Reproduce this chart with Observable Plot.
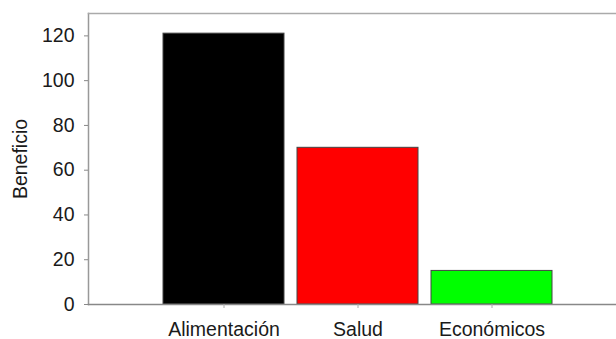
<!DOCTYPE html>
<html>
<head>
<meta charset="utf-8">
<script src="https://cdn.jsdelivr.net/npm/d3@7"></script>
<script src="https://cdn.jsdelivr.net/npm/@observablehq/plot@0.6"></script>
<style>
  html, body { margin: 0; padding: 0; background: #fff; }
  #chart svg { display: block; font-family: "Liberation Sans", Arial, sans-serif; }
</style>
</head>
<body>
<div id="chart"></div>
<script>
const categories = ["Alimentación", "Salud", "Económicos"];
const values = [121, 70, 15];
const colors = ["#000000", "#ff0000", "#00ff00"];
const yTicks = [0, 20, 40, 60, 80, 100, 120];
const yLabel = "Beneficio";

const data = categories.map((c, i) => ({cat: c, value: values[i], color: colors[i]}));

const chart = Plot.plot({
  width: 616,
  height: 339,
  marginLeft: 88,
  marginRight: 0,
  marginTop: 13,
  marginBottom: 35,
  style: {fontFamily: "'Liberation Sans', Arial, sans-serif", background: "#fff"},
  x: {domain: categories, range: [156.5, 558.5], paddingInner: 0.097, paddingOuter: 0.0485},
  y: {domain: [0, 130]},
  marks: [
    Plot.barY(data, {x: "cat", y: "value", fill: "color", stroke: "#444", strokeWidth: 1}),
    Plot.frame({anchor: "left", stroke: "#999", strokeWidth: 1.5}),
    Plot.frame({anchor: "top", stroke: "#aaa", strokeWidth: 1.5}),
    Plot.frame({anchor: "bottom", stroke: "#888", strokeWidth: 1.5}),
    Plot.axisY({ticks: yTicks, tickSize: 4, tickPadding: 10, fontSize: 19.5, stroke: "#888", color: "#1a1a1a",
      label: yLabel, labelAnchor: "center", labelOffset: 75, labelArrow: "none"}),
    Plot.axisX({tickSize: 4, tickPadding: 14, fontSize: 19.5, label: null, stroke: "#aaa", color: "#1a1a1a"})
  ]
});
document.getElementById("chart").appendChild(chart);
</script>
</body>
</html>
